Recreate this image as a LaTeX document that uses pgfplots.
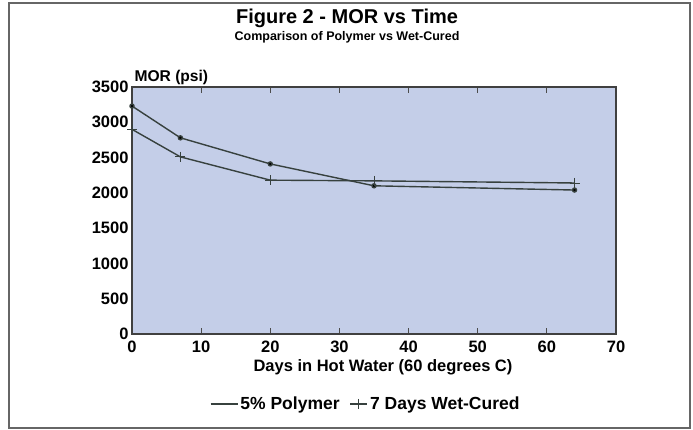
\documentclass[border=0pt]{standalone}
\usepackage{fontspec}
\setmainfont{Liberation Sans}
\usepackage{pgfplots}
\pgfplotsset{compat=1.18}
\definecolor{bgblue}{RGB}{196,206,232}
\definecolor{linec}{RGB}{55,65,62}
\begin{document}
\begin{tikzpicture}[x=1pt,y=1pt]
\path[fill=white] (0,0) rectangle (693,429);
\draw[black!60, line width=1.2pt] (9,1) rectangle (690,426);
\begin{axis}[
  at={(132pt,95pt)}, anchor=south west,
  scale only axis, width=484pt, height=247pt,
  xmin=0, xmax=70, ymin=0, ymax=3500,
  xtick={0,10,...,70}, ytick={0,500,...,3500},
  tick align=inside, major tick length=6pt,
  ytick style={draw=none},
  xtick style={black!70, line width=0.8pt},
  axis line style={black!75, line width=1.3pt},
  axis background/.style={fill=bgblue},
  /pgf/number format/assume math mode=true,
  /pgf/number format/1000 sep={},
  ticklabel style={font=\fontsize{16.5}{17}\selectfont\bfseries},
  xticklabel style={yshift=-3pt},
  yticklabel style={xshift=0pt},
  legend style={at={(0.483,-0.283)}, anchor=center, draw=none, fill=none,
    font=\fontsize{17.5}{18}\selectfont\bfseries, legend columns=2,
    /tikz/every even column/.append style={column sep=8pt}},
  legend cell align=left,
]
\addlegendimage{legend image code/.code={\draw[linec, line width=1.4pt] (0pt,0pt) -- (27pt,0pt);}}
\addlegendentry{5\% Polymer}
\addplot[linec, line width=1.4pt, mark=*, mark size=2pt, mark options={fill=black}, forget plot]
  coordinates {(0,3230) (7,2780) (20,2410) (35,2100) (64,2040)};
\addplot[linec, line width=1.4pt, mark=+, mark size=5pt, mark options={line width=0.8pt}]
  coordinates {(0,2900) (7,2510) (20,2180) (35,2170) (64,2140)};
\addlegendentry{7 Days Wet-Cured}
\end{axis}
\node[font=\fontsize{20}{22}\selectfont\bfseries] at (347,411) {Figure 2 - MOR vs Time};
\node[font=\fontsize{12.5}{14}\selectfont\bfseries] at (347,392) {Comparison of Polymer vs Wet-Cured};
\node[font=\fontsize{15.6}{17}\selectfont\bfseries, anchor=west] at (131,352) {MOR (psi)};
\node[font=\fontsize{16.5}{17}\selectfont\bfseries] at (383,62) {Days in Hot Water (60 degrees C)};
\end{tikzpicture}
\end{document}
